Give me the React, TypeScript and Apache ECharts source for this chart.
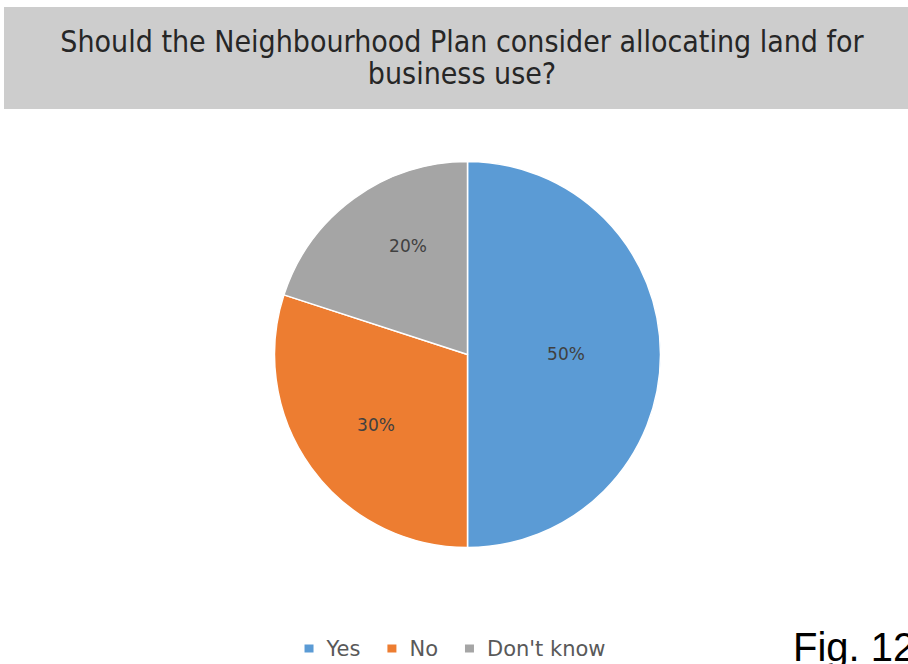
import React, { useEffect, useRef } from "react";
import * as echarts from "echarts";

const titleLines = ["Should the Neighbourhood Plan consider allocating land for", "business use?"];
const categories = ["Yes", "No", "Don't know"];
const values = [50, 30, 20];
const colors = ["#5B9BD5", "#ED7D31", "#A5A5A5"];
const labelShift = [
  [-1, -1],
  [-11, 12],
  [-1, -28],
];
const figText = "Fig. 12";

export default function App() {
  const ref = useRef<HTMLDivElement>(null);
  useEffect(() => {
    if (!ref.current) return;
    const chart = echarts.init(ref.current, undefined, { renderer: "svg" });
    chart.setOption({
      animation: false,
      backgroundColor: "#ffffff",
      title: {
        text: titleLines.join("\n"),
        left: 457,
        textAlign: "center",
        top: 20,
        textStyle: {
          fontFamily: "DejaVu Sans Condensed",
          fontSize: 30,
          fontWeight: "normal",
          color: "#262626",
          lineHeight: 32,
        },
      },
      legend: {
        data: categories,
        bottom: 0,
        left: "center",
        itemWidth: 11,
        itemHeight: 10,
        itemGap: 25,
        icon: "rect",
        textStyle: {
          fontFamily: "DejaVu Sans",
          fontSize: 21,
          color: "#595959",
          padding: [0, 0, 0, 7],
        },
      },
      graphic: [
        {
          type: "rect",
          z: -10,
          shape: { x: 4, y: 7, width: 904, height: 102 },
          style: { fill: "#CDCDCD" },
          silent: true,
        },
        {
          type: "text",
          x: 793,
          y: 627,
          style: {
            text: figText,
            fontFamily: "Liberation Sans",
            fontSize: 40,
            fill: "#000000",
            textVerticalAlign: "top",
          },
        },
      ],
      series: [
        {
          type: "pie",
          center: [467.5, 354.5],
          radius: 193,
          startAngle: 90,
          clockwise: true,
          data: categories.map((name, i) => ({
            name,
            value: values[i],
            itemStyle: { color: colors[i] },
          })),
          itemStyle: { borderColor: "#ffffff", borderWidth: 1.5 },
          label: {
            position: "inside",
            formatter: "{d}%",
            fontFamily: "DejaVu Sans",
            fontSize: 17,
            color: "#404040",
          },
          labelLine: { show: false },
          labelLayout: (p: any) => ({
            dx: labelShift[p.dataIndex][0],
            dy: labelShift[p.dataIndex][1],
          }),
          emphasis: { disabled: true },
        },
      ],
    });
    return () => chart.dispose();
  }, []);
  return (
    <div
      ref={ref}
      style={{ position: "absolute", left: 0, top: 0, width: 908, height: 664 }}
    />
  );
}
